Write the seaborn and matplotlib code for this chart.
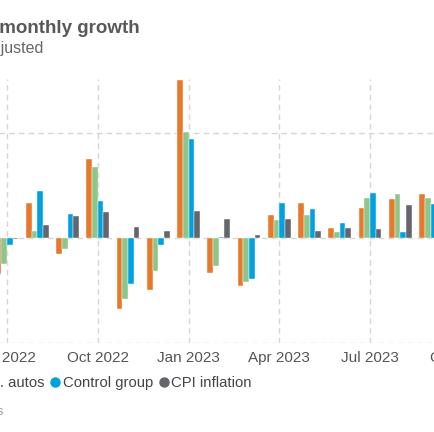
import numpy as np
import pandas as pd
import matplotlib
matplotlib.use("Agg")
import matplotlib.pyplot as plt
from matplotlib.lines import Line2D
import seaborn as sns

# months shown (Jul 2022 .. Sep 2023)
months = ["Jul 2022", "Aug 2022", "Sep 2022", "Oct 2022", "Nov 2022", "Dec 2022",
          "Jan 2023", "Feb 2023", "Mar 2023", "Apr 2023", "May 2023", "Jun 2023",
          "Jul 2023", "Aug 2023", "Sep 2023"]

# monthly growth, %
retail_sales = [-0.69, 0.67, -0.30, 1.51, -1.36, -0.99, 3.01, -0.66, -0.91, 0.44, 0.67, 0.20, 0.57, 0.74, 0.83]
retail_ex_autos = [-0.49, 0.14, -0.20, 1.36, -1.16, -0.63, 2.02, -0.54, -0.83, 0.34, 0.43, 0.12, 0.77, 0.83, 0.76]
control_group = [-0.13, 0.89, 0.46, 0.71, -0.88, -0.14, 1.89, 0.02, -0.78, 0.66, 0.56, 0.29, 0.85, 0.11, 0.64]
cpi_inflation = [-0.02, 0.24, 0.42, 0.49, 0.21, 0.14, 0.52, 0.37, 0.06, 0.37, 0.13, 0.19, 0.17, 0.63, 0.40]

series_names = ["Retail sales", "Retail sales ex. autos", "Control group", "CPI inflation"]
colors = ["#e8792b", "#8dc68a", "#00a0e1", "#63666a"]

tick_pos = [-3, 0, 3, 6, 9, 12, 15]
tick_labels = ["Apr 2022", "Jul 2022", "Oct 2022", "Jan 2023", "Apr 2023", "Jul 2023", "Oct 2023"]

df = pd.DataFrame({
    "month": months * 4,
    "series": sum([[s] * len(months) for s in series_names], []),
    "value": retail_sales + retail_ex_autos + control_group + cpi_inflation,
})

sns.set_style("white")
plt.rcParams["font.family"] = ["Liberation Sans", "DejaVu Sans"]

W, H = 435, 432
fig = plt.figure(figsize=(W / 100, H / 100), dpi=100)

# plot area: px -100..535 horizontally, 79..343 vertically
ax_left, ax_right, ax_top, ax_bot = -100, 535, 79, 343
ax = fig.add_axes([ax_left / W, 1 - ax_bot / H, (ax_right - ax_left) / W, (ax_bot - ax_top) / H])

sns.barplot(data=df, x="month", y="value", hue="series", hue_order=series_names,
            palette=colors, saturation=1, width=0.76, legend=False, ax=ax, zorder=3)
for p in ax.patches:
    p.set_edgecolor("white")
    p.set_linewidth(0.3)

px_per_month = 30.25
xmin = -(7 - ax_left) / px_per_month
ax.set_xlim(xmin, xmin + (ax_right - ax_left) / px_per_month)
ax.set_ylim(-2, 3.03)

ax.set_xticks(tick_pos)
ax.set_xticklabels(tick_labels, fontsize=11, color="#555555")
ax.set_yticks([-2, 0, 2])
ax.set_yticklabels([])
ax.tick_params(axis="both", length=0, pad=6)
ax.set_xlabel("")
ax.set_ylabel("")

ax.grid(True, color="#d6d6d6", linestyle=(0, (4, 3)), linewidth=1, zorder=0)
ax.set_axisbelow(True)
for s in ax.spines.values():
    s.set_visible(False)

# title / subtitle (cut off at the left edge like the reference)
fig.text(140 / W, 1 - 33 / H, "Retail sales monthly growth", ha="right", va="baseline",
         fontsize=13.5, fontweight="bold", color="#58595b")
fig.text(43 / W, 1 - 53 / H, "Seasonally adjusted", ha="right", va="baseline",
         fontsize=11.5, color="#666666")

handles = [Line2D([], [], marker="o", linestyle="", markersize=6.5,
                  markerfacecolor=c, markeredgecolor=c) for c in colors]
fig.legend(handles, series_names, loc="center right", bbox_to_anchor=(252 / W, 1 - 383 / H),
           ncol=4, frameon=False, fontsize=10.7, handlelength=0.6, handletextpad=0.2,
           columnspacing=0.45, borderpad=0, borderaxespad=0, labelcolor="#444444")

fig.text(3 / W, 1 - 415 / H, "Source: U.S. Census Bureau, Bureau of Labor Statistics",
         ha="right", va="baseline", fontsize=9, color="#999999")

fig.savefig("out.png", dpi=100)
